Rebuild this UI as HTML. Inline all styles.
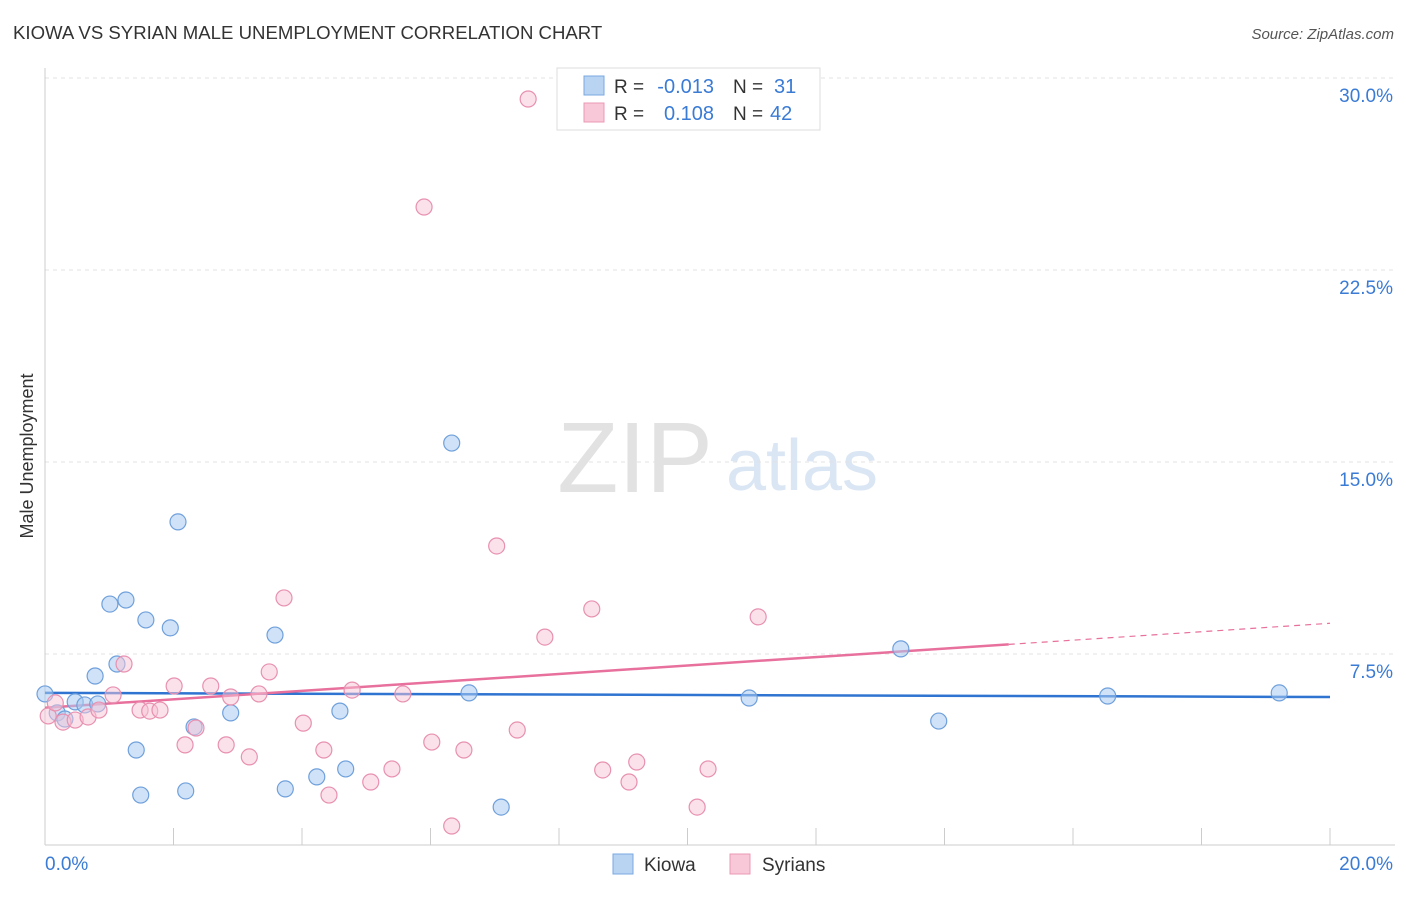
<!DOCTYPE html>
<html><head><meta charset="utf-8">
<style>
body{margin:0;background:#fff;font-family:"Liberation Sans",sans-serif;}
svg text{font-family:"Liberation Sans",sans-serif;}
</style></head>
<body>
<svg id="chart" width="1406" height="892" xmlns="http://www.w3.org/2000/svg">
<text x="13" y="39" font-size="18.6" fill="#333">KIOWA VS SYRIAN MALE UNEMPLOYMENT CORRELATION CHART</text>
<text x="1394" y="39" font-size="15" fill="#555" text-anchor="end" font-style="italic">Source: ZipAtlas.com</text>
<text transform="translate(33,456) rotate(-90)" font-size="18" fill="#333" text-anchor="middle">Male Unemployment</text>
<g>
<text x="635" y="492" font-size="100" fill="#e2e2e2" text-anchor="middle" font-family="Liberation Serif">ZIP</text>
<text x="802" y="490" font-size="72" fill="#dbe6f4" text-anchor="middle">atlas</text>
</g>
<g id="grid"></g>
<g id="axes"></g>
<g id="trend"></g>
<g id="points"></g>
<g>
<rect x="557" y="68" width="263" height="62" fill="#fff" stroke="#ddd"/>
<rect x="584" y="76" width="20" height="19" fill="#b8d4f2" stroke="#7aa8e0"/>
<rect x="584" y="103" width="20" height="19" fill="#f9c8d8" stroke="#eb98b6"/>
<text x="614" y="93" font-size="19" fill="#333">R =</text>
<text x="714" y="93" font-size="20" fill="#3a7bd5" text-anchor="end">-0.013</text>
<text x="733" y="93" font-size="19" fill="#333">N =</text>
<text x="774" y="93" font-size="20" fill="#3a7bd5">31</text>
<text x="614" y="120" font-size="19" fill="#333">R =</text>
<text x="714" y="120" font-size="20" fill="#3a7bd5" text-anchor="end">0.108</text>
<text x="733" y="120" font-size="19" fill="#333">N =</text>
<text x="770" y="120" font-size="20" fill="#3a7bd5">42</text>
</g>
<g>
<rect x="613" y="854" width="20" height="20" fill="#b8d4f2" stroke="#7aa8e0"/>
<text x="644" y="871" font-size="19" fill="#333">Kiowa</text>
<rect x="730" y="854" width="20" height="20" fill="#f9c8d8" stroke="#eb98b6"/>
<text x="762" y="871" font-size="19" fill="#333">Syrians</text>
</g>
</svg>
<script>
const kiowaX=[0,0.19,0.31,0.47,0.62,0.78,0.82,1.01,1.12,1.26,1.42,1.49,1.57,1.95,2.07,2.19,2.32,2.89,3.58,3.74,4.23,4.59,4.68,6.33,6.6,7.1,10.96,13.32,13.91,16.54,19.21];
const kiowaY=[5.94,5.2,4.96,5.63,5.51,6.64,5.55,9.45,7.11,9.61,3.75,1.99,8.83,8.52,12.66,2.15,4.65,5.2,8.24,2.23,2.7,5.27,3.01,15.74,5.98,1.52,5.78,7.7,4.88,5.86,5.98];
const syrX=[0.05,0.16,0.28,0.47,0.67,0.84,1.06,1.23,1.48,1.63,1.79,2.01,2.18,2.35,2.58,2.82,2.89,3.18,3.33,3.49,3.72,4.02,4.34,4.42,4.78,5.07,5.4,5.57,5.9,6.02,6.33,6.52,7.03,7.35,7.52,7.78,8.51,8.68,9.09,9.21,10.15,10.32,11.1];
const syrY=[5.08,5.59,4.84,4.92,5.04,5.31,5.9,7.11,5.31,5.27,5.31,6.25,3.95,4.61,6.25,3.95,5.82,3.48,5.94,6.8,9.69,4.8,3.75,1.99,6.09,2.5,3.01,5.94,24.96,4.06,0.78,3.75,11.72,4.53,29.18,8.16,9.26,2.97,2.5,3.28,1.52,3.01,8.95];
const yTicks=[7.5,15,22.5,30];
const yTickLabels=["7.5%","15.0%","22.5%","30.0%"];
const xTicks=[0,2,4,6,8,10,12,14,16,18,20];
const kiowaTrend=[5.98,5.82];
const syrTrend=[5.4,8.7];
const syrSolidEnd=15;

const NS="http://www.w3.org/2000/svg";
const X0=45,X1=1330,Y0=846,PXY=25.6;
const sx=v=>X0+(v/20)*(X1-X0);
const sy=v=>Y0-v*PXY;
function mk(tag,attrs,parent){const e=document.createElementNS(NS,tag);for(const k in attrs)e.setAttribute(k,attrs[k]);document.getElementById(parent).appendChild(e);return e;}

yTicks.forEach((t,i)=>{
  const g=mk('line',{x1:X0,x2:1395,y1:sy(t),y2:sy(t),stroke:'#e3e3e3','stroke-dasharray':'4,4'},'grid');
  
  
  const l=mk('text',{x:1393,y:sy(t)+24,'font-size':19,fill:'#3a7bd5','text-anchor':'end'},'grid');
  l.textContent=yTickLabels[i];
  
  
});
const ax=mk('line',{x1:X0,x2:1395,y1:845,y2:845,stroke:'#ccc'},'axes');


const ay=mk('line',{x1:X0,x2:X0,y1:68,y2:845,stroke:'#ccc'},'axes');


xTicks.forEach(t=>{
  const k=mk('line',{x1:sx(t),x2:sx(t),y1:828,y2:845,stroke:'#ccc'},'axes');
  
  
});
const xl0=mk('text',{x:45,y:870,'font-size':19,fill:'#3a7bd5'},'axes');xl0.textContent='0.0%';


const xl1=mk('text',{x:1393,y:870,'font-size':19,fill:'#3a7bd5','text-anchor':'end'},'axes');xl1.textContent='20.0%';



kiowaX.forEach((v,i)=>{
  const c=mk('circle',{cx:sx(v),cy:sy(kiowaY[i]),r:8,fill:'rgba(170,203,240,0.55)',stroke:'#6fa0dc','stroke-width':1.2},'points');
  
  
});
syrX.forEach((v,i)=>{
  const c=mk('circle',{cx:sx(v),cy:sy(syrY[i]),r:8,fill:'rgba(248,195,213,0.5)',stroke:'#e890b0','stroke-width':1.2},'points');
  
  
});
const kt=mk('line',{x1:sx(0),y1:sy(kiowaTrend[0]),x2:sx(20),y2:sy(kiowaTrend[1]),stroke:'#2f74d0','stroke-width':2.5},'trend');


const syAt=x=>syrTrend[0]+(syrTrend[1]-syrTrend[0])*x/20;
const st=mk('line',{x1:sx(0),y1:sy(syAt(0)),x2:sx(syrSolidEnd),y2:sy(syAt(syrSolidEnd)),stroke:'#e8709c','stroke-width':2.5},'trend');


const sd=mk('line',{x1:sx(syrSolidEnd),y1:sy(syAt(syrSolidEnd)),x2:sx(20),y2:sy(syAt(20)),stroke:'#e8709c','stroke-width':1.2,'stroke-dasharray':'6,5'},'trend');


</script>
</body></html>
